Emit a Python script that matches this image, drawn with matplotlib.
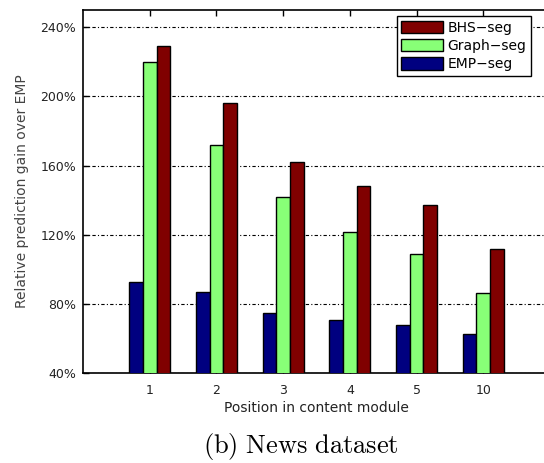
import numpy as np
import matplotlib
matplotlib.use('Agg')
import matplotlib.pyplot as plt

# data
positions = ['1', '2', '3', '4', '5', '10']
emp_seg = [92.7, 87, 74.6, 70.7, 67.8, 62.6]
graph_seg = [220, 172, 142, 121.5, 109, 86]
bhs_seg = [229, 196, 162, 148, 137, 112]
yticks = [40, 80, 120, 160, 200, 240]

plt.rcParams['mathtext.fontset'] = 'cm'
fontsize = 9

fig = plt.figure(figsize=(5.44, 4.63), dpi=100)
# axes runs a bit past the right edge, as in the cropped original
ax = fig.add_axes([83/544, 1 - 373/463, 467/544, 363/463])

x = np.arange(1, len(positions) + 1)
w = 0.205
ax.bar(x - w, emp_seg, w, color='#000080', edgecolor='k', linewidth=1.0, label='EMP\u2212seg', zorder=3)
ax.bar(x, graph_seg, w, color='#88ff77', edgecolor='k', linewidth=1.0, label='Graph\u2212seg', zorder=3)
ax.bar(x + w, bhs_seg, w, color='#800000', edgecolor='k', linewidth=1.0, label='BHS\u2212seg', zorder=3)

ax.set_xlim(0, 7)
ax.set_ylim(40, 250)
ax.set_xticks(x)
ax.set_xticklabels(positions, fontsize=fontsize, color='#222222')
ax.set_yticks(yticks)
ax.set_yticklabels(['%d%%' % v for v in yticks], fontsize=fontsize, color='#222222')
ax.tick_params(direction='in', top=True, right=True, length=4, width=1)
ax.tick_params(axis='x', pad=8)
ax.tick_params(axis='y', pad=5)
ax.yaxis.grid(True, color='k', linestyle=(0, (3, 2, 1, 2)), linewidth=0.8, zorder=1)
ax.set_axisbelow(True)
for s in ax.spines.values():
    s.set_linewidth(1.2)

ax.set_ylabel('Relative prediction gain over EMP', fontsize=10, color='#444444', labelpad=8)
ax.set_xlabel('Position in content module', fontsize=10, color='#222222', labelpad=3)

h, l = ax.get_legend_handles_labels()
leg = ax.legend(h[::-1], l[::-1], loc='upper right', bbox_to_anchor=((531 - 83)/467, 1 - 6/363),
                fontsize=10, fancybox=False, edgecolor='k', framealpha=1,
                handlelength=3.0, handleheight=1.0, handletextpad=0.3, borderpad=0.35,
                labelspacing=0.3, borderaxespad=0)
leg.get_frame().set_linewidth(1.0)

fig.text(301/544, 1 - 447/463, r'$\mathrm{(b)\ News\ dataset}$', fontsize=19,
         ha='center', va='center')

plt.savefig('out.png', dpi=100)
